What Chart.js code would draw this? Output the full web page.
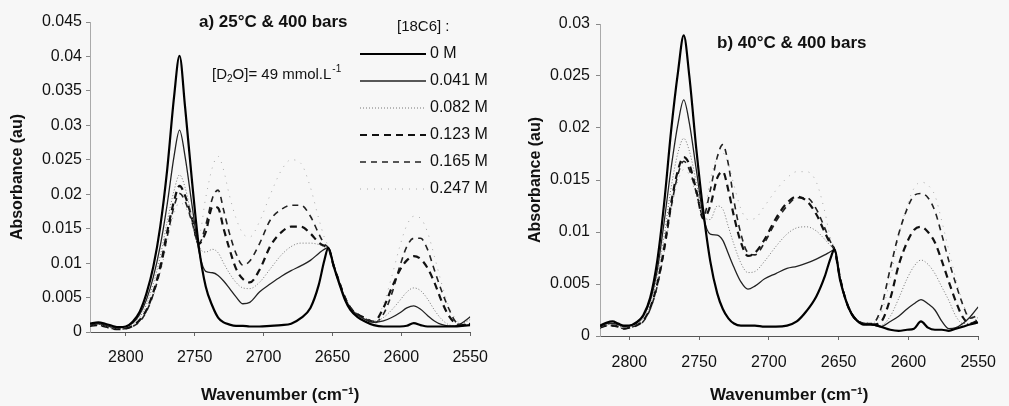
<!DOCTYPE html>
<html>
<head>
<meta charset="utf-8">
<script src="https://cdn.jsdelivr.net/npm/chart.js@4.4.1/dist/chart.umd.min.js"></script>
<style>
  html, body { margin: 0; padding: 0; background: #f7f7f7; }
  #wrap { position: relative; width: 1009px; height: 406px; }
  canvas { position: absolute; top: 0; }
  #chartA { left: 0; }
  #chartB { left: 500px; }
</style>
</head>
<body>
<div id="wrap">
  <canvas id="chartA" width="500" height="406"></canvas>
  <canvas id="chartB" width="509" height="406"></canvas>
</div>
<script>
// [18C6] concentrations
var labels = ["0 M", "0.041 M", "0.082 M", "0.123 M", "0.165 M", "0.247 M"];

var xTicks = [2800, 2750, 2700, 2650, 2600, 2550];
var yTicksA = [0, 0.005, 0.01, 0.015, 0.02, 0.025, 0.03, 0.035, 0.04, 0.045];
var yTicksB = [0, 0.005, 0.01, 0.015, 0.02, 0.025, 0.03];

// a) 25°C & 400 bars
var wnA = [2826, 2820, 2815, 2810, 2805, 2800, 2795, 2790, 2785, 2780,
  2775, 2770, 2765, 2761, 2757, 2752, 2747, 2742, 2737, 2733,
  2729, 2725, 2720, 2715, 2710, 2703, 2695, 2687, 2680, 2673,
  2666, 2660, 2656, 2653, 2649, 2645, 2641, 2637, 2632, 2626,
  2620, 2613, 2607, 2601, 2596, 2591, 2586, 2581, 2576, 2571,
  2566, 2561, 2556, 2550];

var a0 = [.0012, .0014, .0012, .0009, .0007, .0008, .0015, .0029, .0056, .0095,
  .0153, .0235, .0341, .0401, .0327, .0220, .0124, .0066, .0037, .0021,
  .0014, .0011, .0009, .0009, .0008, .0008, .0009, .0010, .0012, .0020,
  .0035, .0068, .0103, .0122, .0095, .0070, .0047, .0032, .0022, .0015,
  .0010, .0008, .0008, .0008, .0009, .0013, .0010, .0008, .0008, .0008,
  .0008, .0008, .0009, .0010];
var a1 = [.0010, .0012, .0010, .0007, .0006, .0008, .0013, .0025, .0047, .0080,
  .0125, .0185, .0255, .0293, .0255, .0185, .0118, .0088, .0086, .0082,
  .0074, .0064, .0051, .0041, .0043, .0058, .0070, .0081, .0089, .0096,
  .0104, .0114, .0120, .0122, .0095, .0072, .0050, .0035, .0025, .0018,
  .0014, .0016, .0021, .0028, .0035, .0038, .0033, .0024, .0016, .0011,
  .0009, .0009, .0013, .0022];
var a2 = [.0010, .0011, .0009, .0006, .0005, .0007, .0011, .0021, .0040, .0070,
  .0110, .0160, .0205, .0228, .0210, .0165, .0125, .0116, .0120, .0115,
  .0100, .0086, .0072, .0064, .0063, .0072, .0092, .0112, .0124, .0129,
  .0129, .0127, .0124, .0122, .0095, .0072, .0050, .0035, .0025, .0018,
  .0015, .0021, .0032, .0046, .0058, .0064, .0060, .0048, .0032, .0019,
  .0011, .0009, .0012, .0018];
var a3 = [.0009, .0010, .0008, .0005, .0004, .0005, .0009, .0017, .0032, .0058,
  .0095, .0145, .0190, .0212, .0198, .0165, .0128, .0145, .0182, .0180,
  .0150, .0122, .0092, .0077, .0072, .0090, .0125, .0145, .0153, .0153,
  .0143, .0130, .0125, .0122, .0095, .0072, .0050, .0035, .0026, .0020,
  .0015, .0035, .0064, .0090, .0104, .0110, .0106, .0093, .0072, .0046,
  .0025, .0013, .0010, .0012];
var a4 = [.0009, .0010, .0008, .0005, .0004, .0005, .0008, .0015, .0030, .0055,
  .0090, .0138, .0182, .0201, .0190, .0160, .0128, .0155, .0195, .0206,
  .0177, .0145, .0114, .0097, .0103, .0128, .0163, .0178, .0184, .0184,
  .0168, .0143, .0128, .0122, .0097, .0073, .0051, .0036, .0026, .0019,
  .0013, .0026, .0055, .0096, .0124, .0136, .0136, .0120, .0090, .0061,
  .0036, .0016, .0010, .0012];
var a5 = [.0009, .0010, .0008, .0005, .0004, .0005, .0008, .0014, .0028, .0052,
  .0086, .0130, .0172, .0188, .0182, .0160, .0140, .0195, .0240, .0255,
  .0235, .0200, .0165, .0143, .0138, .0160, .0200, .0235, .0250, .0245,
  .0210, .0165, .0138, .0124, .0098, .0074, .0052, .0037, .0027, .0020,
  .0015, .0040, .0080, .0125, .0155, .0168, .0165, .0145, .0110, .0072,
  .0040, .0020, .0012, .0014];

// b) 40°C & 400 bars
var wnB = [2821, 2816, 2812, 2808, 2804, 2800, 2795, 2790, 2785, 2780,
  2775, 2770, 2765, 2761, 2757, 2752, 2747, 2742, 2737, 2733,
  2729, 2725, 2720, 2715, 2710, 2703, 2695, 2687, 2680, 2673,
  2666, 2660, 2656, 2653, 2649, 2645, 2641, 2637, 2632, 2626,
  2620, 2613, 2607, 2601, 2596, 2591, 2586, 2581, 2576, 2571,
  2566, 2561, 2556, 2550];

var b0 = [.0010, .0013, .0014, .0012, .0010, .0010, .0013, .0020, .0037, .0072,
  .0128, .0198, .0255, .0289, .0250, .0180, .0120, .0072, .0041, .0026,
  .0017, .0012, .0010, .0010, .0010, .0009, .0009, .0010, .0014, .0024,
  .0038, .0057, .0074, .0083, .0054, .0035, .0022, .0015, .0011, .0011,
  .0009, .0006, .0005, .0006, .0007, .0014, .0008, .0006, .0006, .0005,
  .0007, .0009, .0011, .0013];
var b1 = [.0009, .0012, .0012, .0011, .0009, .0010, .0012, .0019, .0034, .0063,
  .0110, .0162, .0205, .0227, .0205, .0160, .0115, .0098, .0097, .0092,
  .0079, .0066, .0052, .0045, .0048, .0055, .0060, .0065, .0067, .0070,
  .0074, .0078, .0081, .0083, .0056, .0035, .0022, .0015, .0012, .0011,
  .0009, .0014, .0019, .0026, .0031, .0035, .0031, .0025, .0014, .0007,
  .0008, .0012, .0018, .0028];
var b2 = [.0008, .0011, .0011, .0010, .0008, .0009, .0011, .0017, .0031, .0057,
  .0097, .0143, .0177, .0190, .0178, .0148, .0115, .0112, .0125, .0122,
  .0105, .0088, .0070, .0061, .0062, .0072, .0086, .0098, .0104, .0105,
  .0101, .0093, .0087, .0083, .0056, .0035, .0022, .0015, .0012, .0011,
  .0010, .0019, .0036, .0055, .0067, .0073, .0069, .0060, .0047, .0034,
  .0019, .0012, .0012, .0018];
var b3 = [.0008, .0010, .0010, .0009, .0007, .0008, .0010, .0015, .0027, .0050,
  .0085, .0128, .0160, .0172, .0165, .0140, .0113, .0125, .0152, .0158,
  .0140, .0115, .0090, .0077, .0080, .0093, .0113, .0128, .0134, .0130,
  .0117, .0100, .0089, .0083, .0056, .0035, .0022, .0015, .0012, .0011,
  .0013, .0036, .0068, .0090, .0102, .0105, .0100, .0090, .0072, .0052,
  .0033, .0018, .0012, .0015];
var b4 = [.0008, .0010, .0010, .0009, .0007, .0008, .0010, .0014, .0026, .0048,
  .0082, .0124, .0156, .0168, .0160, .0138, .0115, .0140, .0172, .0184,
  .0165, .0130, .0098, .0080, .0078, .0090, .0110, .0125, .0133, .0133,
  .0122, .0104, .0091, .0083, .0056, .0035, .0022, .0015, .0012, .0012,
  .0025, .0065, .0098, .0122, .0135, .0137, .0133, .0120, .0097, .0072,
  .0050, .0030, .0017, .0020];
var b5 = [.0008, .0010, .0010, .0009, .0007, .0008, .0010, .0014, .0025, .0046,
  .0080, .0120, .0150, .0160, .0155, .0135, .0117, .0150, .0172, .0176,
  .0165, .0145, .0122, .0112, .0113, .0125, .0140, .0152, .0158, .0158,
  .0148, .0120, .0095, .0084, .0057, .0036, .0023, .0016, .0013, .0013,
  .0020, .0055, .0095, .0125, .0142, .0148, .0145, .0135, .0110, .0082,
  .0055, .0032, .0018, .0022];

var lineColors = ["#000", "#222", "#777", "#111", "#222", "#aaa"];
var lineWidths = [2.2, 1.3, 1, 2.2, 1.6, 1];
var lineDashes = [[], [], [1, 2], [7, 5], [6, 5], [1, 6]];

var font = '"Liberation Sans", Arial, Helvetica, sans-serif';
Chart.defaults.font.family = font;
Chart.defaults.font.size = 16;
Chart.defaults.color = "#111";

function makeDatasets(wn, series) {
  return series.map(function (values, i) {
    return {
      label: labels[i],
      data: values.map(function (v, j) {
        return { x: wn[j], y: v };
      }),
      borderColor: lineColors[i],
      borderWidth: lineWidths[i],
      borderDash: lineDashes[i],
      pointRadius: 0,
      fill: false,
      cubicInterpolationMode: "monotone",
    };
  });
}

// p: sizes of the axis boxes so the plot area sits where the scan has it
function makeScales(xMax, yTicks, p) {
  return {
    x: {
      type: "linear",
      reverse: true,
      min: 2550,
      max: xMax,
      afterBuildTicks: function (scale) {
        scale.ticks = xTicks.map(function (v) { return { value: v }; });
      },
      afterFit: function (scale) { scale.height = p.xHeight; },
      ticks: {
        padding: p.xLabelPad,
        maxRotation: 0,
        callback: function (v) { return String(v); },
      },
      grid: { drawOnChartArea: false, drawTicks: true, tickLength: 4, color: "#666" },
      border: { display: true, color: "#555", dash: [2, 1] },
      title: {
        display: true,
        text: "Wavenumber (cm⁻¹)",
        font: { size: 17, weight: "bold" },
        padding: { top: 0, bottom: 0 },
      },
    },
    y: {
      min: 0,
      max: yTicks[yTicks.length - 1],
      afterBuildTicks: function (scale) {
        scale.ticks = yTicks.map(function (v) { return { value: v }; });
      },
      afterFit: function (scale) { scale.width = p.yWidth; },
      ticks: {
        padding: p.yLabelPad,
        callback: function (v) { return String(Number(v.toFixed(3))); },
      },
      grid: { drawOnChartArea: false, drawTicks: true, tickLength: 4, color: "#888" },
      border: { display: true, color: "#aaa", dash: [1, 2] },
      title: {
        display: true,
        text: "Absorbance (au)",
        font: { size: 16, weight: "bold" },
        padding: { top: p.yTitlePad, bottom: 0 },
      },
    },
  };
}

function drawLegend(chart) {
  var ctx = chart.ctx;
  ctx.font = "15px " + font;
  ctx.fillText("[18C6] :", 397, 27);
  ctx.font = "16px " + font;
  chart.data.datasets.forEach(function (ds, i) {
    var ly = 54 + i * 27;
    ctx.save();
    ctx.strokeStyle = ds.borderColor;
    ctx.lineWidth = ds.borderWidth;
    ctx.setLineDash(ds.borderDash);
    ctx.beginPath();
    ctx.moveTo(360, ly);
    ctx.lineTo(426, ly);
    ctx.stroke();
    ctx.restore();
    ctx.fillText(ds.label, 430, ly);
  });
}

function piece(ctx, text, x, y) {
  ctx.fillText(text, x, y);
  return x + ctx.measureText(text).width;
}

var notesA = {
  id: "notesA",
  afterDraw: function (chart) {
    var ctx = chart.ctx;
    ctx.save();
    ctx.fillStyle = "#111";
    ctx.textBaseline = "middle";
    ctx.textAlign = "left";
    ctx.font = "bold 17px " + font;
    ctx.fillText("a) 25°C & 400 bars", 199, 22);
    // [D2O]= 49 mmol.L-1
    var x = 212, y = 75;
    ctx.font = "15px " + font;
    x = piece(ctx, "[D", x, y);
    ctx.font = "10px " + font;
    x = piece(ctx, "2", x, y + 4);
    ctx.font = "15px " + font;
    x = piece(ctx, "O]= 49 mmol.L", x, y);
    ctx.font = "10px " + font;
    piece(ctx, "-1", x + 1, y - 6);
    drawLegend(chart);
    ctx.restore();
  },
};

var notesB = {
  id: "notesB",
  afterDraw: function (chart) {
    var ctx = chart.ctx;
    ctx.save();
    ctx.fillStyle = "#111";
    ctx.textBaseline = "middle";
    ctx.textAlign = "left";
    ctx.font = "bold 17px " + font;
    ctx.fillText("b) 40°C & 400 bars", 217, 43);
    ctx.restore();
  },
};

var chartA = new Chart(document.getElementById("chartA"), {
  type: "line",
  data: { datasets: makeDatasets(wnA, [a0, a1, a2, a3, a4, a5]) },
  options: {
    responsive: false,
    animation: false,
    layout: { padding: { top: 22, right: 20, bottom: 0, left: 0 } },
    plugins: { legend: { display: false }, tooltip: { enabled: false } },
    scales: makeScales(2826, yTicksA, { xHeight: 74, yWidth: 90, xLabelPad: 12, yLabelPad: 4, yTitlePad: 8 }),
  },
  plugins: [notesA],
});

var chartB = new Chart(document.getElementById("chartB"), {
  type: "line",
  data: { datasets: makeDatasets(wnB, [b0, b1, b2, b3, b4, b5]) },
  options: {
    responsive: false,
    animation: false,
    layout: { padding: { top: 24, right: 20, bottom: 0, left: 0 } },
    plugins: { legend: { display: false }, tooltip: { enabled: false } },
    scales: makeScales(2821, yTicksB, { xHeight: 70, yWidth: 100, xLabelPad: 13, yLabelPad: 6, yTitlePad: 26 }),
  },
  plugins: [notesB],
});
</script>
</body>
</html>
